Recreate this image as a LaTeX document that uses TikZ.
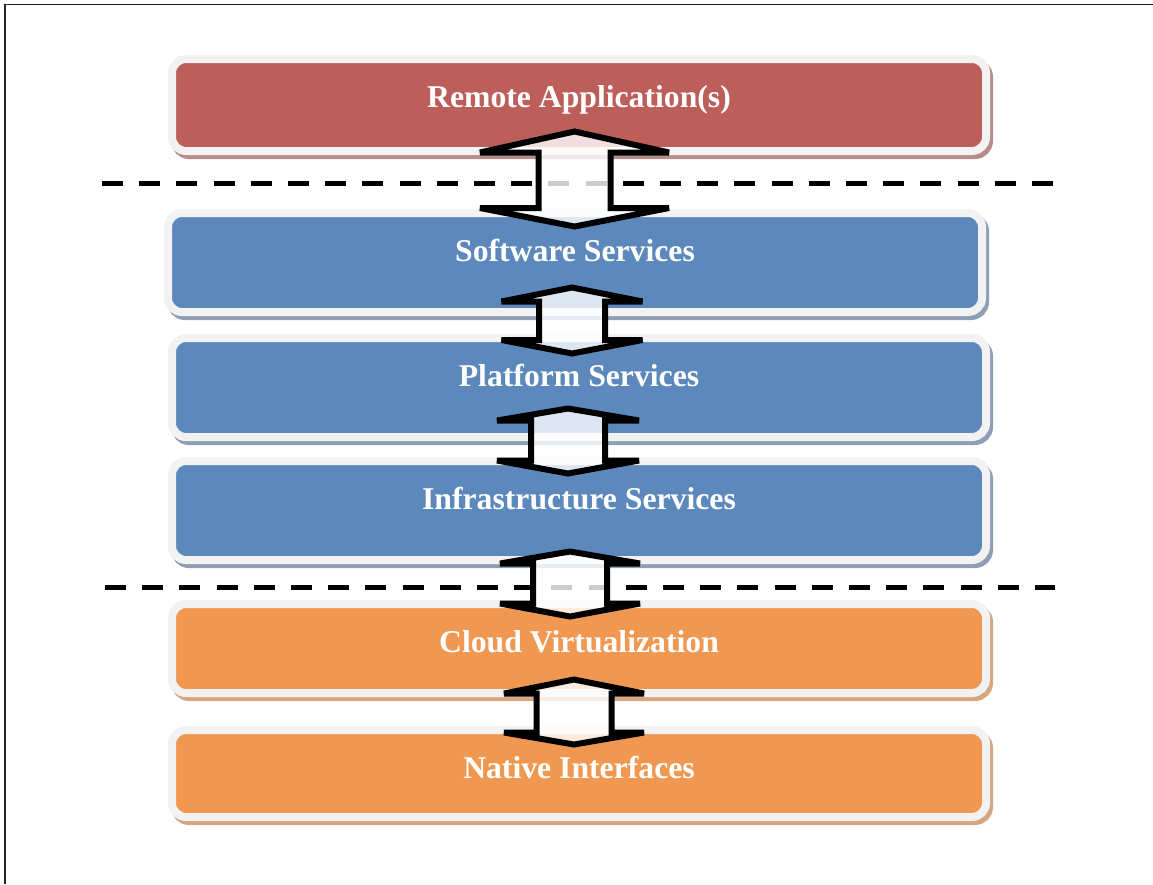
\documentclass[tikz,border=0pt]{standalone}
\usepackage{fontspec}
\setmainfont{Liberation Serif}
\definecolor{redfill}{RGB}{188,94,90}
\definecolor{redshd}{RGB}{182,140,140}
\definecolor{bluefill}{RGB}{92,136,187}
\definecolor{blueshd}{RGB}{142,158,180}
\definecolor{orangefill}{RGB}{240,152,82}
\definecolor{orangeshd}{RGB}{212,166,130}
\definecolor{boxrim}{RGB}{242,242,242}
\tikzset{
  layerbox/.style={rectangle, rounded corners=14pt, inner sep=0pt, outer sep=0pt,
    draw=boxrim, line width=8pt, fill=#1fill, minimum width=814pt,
    preaction={draw=#1shd, fill=#1shd, line width=8pt, transform canvas={shift={(3pt,-4pt)}}}},
  lbl/.style={text=white, font=\bfseries\fontsize{31.7}{38}\selectfont, inner sep=0pt, anchor=base},
  sepline/.style={line width=5pt, black, dash pattern=on 21pt off 16.2pt},
  udarrow/.style={line width=6pt, draw=black, fill=white, fill opacity=0.8, line join=miter, miter limit=2},
}
\newcommand{\udarrow}[7]{%
  \draw[udarrow] (#1,#2) -- ({#1+#6},#3) -- ({#1+#7},#3) -- ({#1+#7},#4) -- ({#1+#6},#4) -- (#1,#5)
    -- ({#1-#6},#4) -- ({#1-#7},#4) -- ({#1-#7},#3) -- ({#1-#6},#3) -- cycle;}
\begin{document}
\begin{tikzpicture}[x=1pt,y=-1pt]
\useasboundingbox (0,0) rectangle (1153,884);
% frame
\draw[line width=1.3pt, black!85] (5,884) -- (5,4.5) -- (1153,4.5);
% layers
\node[layerbox=red, minimum height=92pt] (remote) at (579,105) {};
\node[layerbox=blue, minimum height=99pt] (software) at (575,262.5) {};
\node[layerbox=blue, minimum height=99pt] (platform) at (579,387.5) {};
\node[layerbox=blue, minimum height=99pt] (infra) at (579,510.5) {};
\node[layerbox=orange, minimum height=89pt] (cloud) at (579,648.5) {};
\node[layerbox=orange, minimum height=87pt] (native) at (579,773.5) {};
% labels
\node[lbl] (tremote) at (579,107.5) {Remote Application(s)};
\node[lbl] (tsoftware) at (575,261) {Software Services};
\node[lbl] (tplatform) at (579,386) {Platform Services};
\node[lbl] (tinfra) at (579,509) {Infrastructure Services};
\node[lbl] (tcloud) at (579,652) {Cloud Virtualization};
\node[lbl] (tnative) at (579,778) {Native Interfaces};
% separators
\draw[sepline] (102,183) -- (1053,183);
\draw[sepline] (105,587) -- (1055,587);
% double arrows
\udarrow{574.5}{131.5}{152.5}{208}{226.5}{94.5}{36}
\udarrow{572}{287.5}{301.5}{340}{353.5}{70.5}{33}
\udarrow{568}{408.5}{420.5}{460.5}{473.5}{71}{37}
\udarrow{570}{551.5}{563.5}{603.5}{616.5}{70}{37}
\udarrow{574}{679.5}{693.5}{732.5}{744.5}{70}{37.5}
\end{tikzpicture}
\end{document}
